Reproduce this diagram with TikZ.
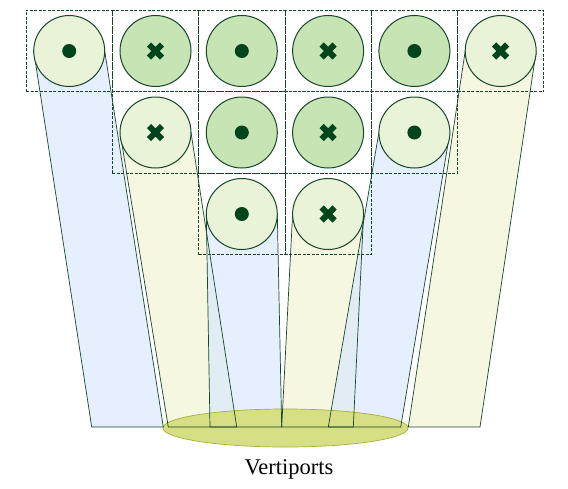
\documentclass[tikz,border=0pt]{standalone}
\usepackage{fontspec}
\setmainfont{Liberation Serif}
\usetikzlibrary{shapes.geometric}
\definecolor{edgegreen}{HTML}{17452A}
\definecolor{markgreen}{HTML}{00441B}
\definecolor{lightcell}{HTML}{E8F3D7}
\definecolor{midcell}{HTML}{C7E4B5}
\definecolor{beamblue}{HTML}{DAE8FC}
\definecolor{beamyellow}{HTML}{EEF2CC}
\definecolor{portfill}{HTML}{D6DF84}
\definecolor{portedge}{HTML}{A6B03A}
\tikzset{
  cellbox/.style={draw=edgegreen, dashed, dash pattern=on 3pt off 1.5pt, line width=0.8pt,
    minimum width=86.3pt, minimum height=81.7pt, inner sep=0pt},
  beamcell/.style={circle, draw=edgegreen, line width=1pt, fill=lightcell,
    minimum size=71pt, inner sep=0pt},
  busycell/.style={beamcell, fill=midcell},
  bluebeam/.style={fill=beamblue, fill opacity=0.7},
  yellowbeam/.style={fill=beamyellow, fill opacity=0.6},
  beamline/.style={draw=edgegreen, line width=0.7pt}
}
\begin{document}
\begin{tikzpicture}[x=1pt,y=-1pt]%
\useasboundingbox (0,0) rectangle (568,488);
\def\markdot#1{\fill[markgreen] (#1.center) circle (7pt);}
\def\markx#1{\draw[markgreen, line width=6pt] ([shift={(-6.5,-6.5)}]#1.center) -- ([shift={(6.5,6.5)}]#1.center)
  ([shift={(-6.5,6.5)}]#1.center) -- ([shift={(6.5,-6.5)}]#1.center);}
% beam cells (light) placed first, as coordinates
\coordinate (a) at (69.2,51);
\coordinate (b) at (155.5,132.5);
\coordinate (c) at (241.8,214);
\coordinate (d) at (328.1,214);
\coordinate (e) at (414.4,132.5);
\coordinate (f) at (500.7,51);
% beam feet on the vertiport line
\coordinate (aL) at (91.7,427);  \coordinate (aR) at (163.3,427);
\coordinate (bL) at (168.3,427); \coordinate (bR) at (236.7,427);
\coordinate (cL) at (210,427);   \coordinate (cR) at (281.7,427);
\coordinate (dL) at (281.7,427); \coordinate (dR) at (353.3,427);
\coordinate (eL) at (328.3,427); \coordinate (eR) at (400.7,427);
\coordinate (fL) at (408.3,427); \coordinate (fR) at (480,427);
% beam fills
\fill[bluebeam] ([xshift=-35.5]a) -- (aL) -- (aR) -- ([xshift=35.5]a) -- cycle;
\fill[yellowbeam] ([xshift=-35.5]b) -- (bL) -- (bR) -- ([xshift=35.5]b) -- cycle;
\fill[bluebeam] ([xshift=-35.5]c) -- (cL) -- (cR) -- ([xshift=35.5]c) -- cycle;
\fill[yellowbeam] ([xshift=-35.5]d) -- (dL) -- (dR) -- ([xshift=35.5]d) -- cycle;
\fill[bluebeam] ([xshift=-35.5]e) -- (eL) -- (eR) -- ([xshift=35.5]e) -- cycle;
\fill[yellowbeam] ([xshift=-35.5]f) -- (fL) -- (fR) -- ([xshift=35.5]f) -- cycle;
% vertiports
\node[ellipse, draw=portedge, fill=portfill, line width=0.7pt, minimum width=245pt,
  minimum height=38pt, inner sep=0pt] (port) at (285.5,428) {};
\node[font=\fontsize{22.5}{25}\selectfont] (label) at (289,469) {Vertiports};
% beam outlines
\draw[beamline] ([xshift=-35.5]a) -- (aL) -- (aR) -- ([xshift=35.5]a);
\draw[beamline] ([xshift=-35.5]b) -- (bL) -- (bR) -- ([xshift=35.5]b);
\draw[beamline] ([xshift=-35.5]c) -- (cL) -- (cR) -- ([xshift=35.5]c);
\draw[beamline] ([xshift=-35.5]d) -- (dL) -- (dR) -- ([xshift=35.5]d);
\draw[beamline] ([xshift=-35.5]e) -- (eL) -- (eR) -- ([xshift=35.5]e);
\draw[beamline] ([xshift=-35.5]f) -- (fL) -- (fR) -- ([xshift=35.5]f);
% grid of cells
\node[cellbox] (g11) at (69.2,51) {};
\node[cellbox] (g12) at (155.5,51) {};
\node[cellbox] (g13) at (241.8,51) {};
\node[cellbox] (g14) at (328.1,51) {};
\node[cellbox] (g15) at (414.4,51) {};
\node[cellbox] (g16) at (500.7,51) {};
\node[cellbox] (g22) at (155.5,132.5) {};
\node[cellbox] (g23) at (241.8,132.5) {};
\node[cellbox] (g24) at (328.1,132.5) {};
\node[cellbox] (g25) at (414.4,132.5) {};
\node[cellbox] (g33) at (241.8,214) {};
\node[cellbox] (g34) at (328.1,214) {};
% satellites over the cells
\node[beamcell] (s11) at (g11) {};
\node[busycell] (s12) at (g12) {};
\node[busycell] (s13) at (g13) {};
\node[busycell] (s14) at (g14) {};
\node[busycell] (s15) at (g15) {};
\node[beamcell] (s16) at (g16) {};
\node[beamcell] (s22) at (g22) {};
\node[busycell] (s23) at (g23) {};
\node[busycell] (s24) at (g24) {};
\node[beamcell] (s25) at (g25) {};
\node[beamcell] (s33) at (g33) {};
\node[beamcell] (s34) at (g34) {};
\markdot{s11} \markx{s12} \markdot{s13} \markx{s14} \markdot{s15} \markx{s16}
\markx{s22} \markdot{s23} \markx{s24} \markdot{s25}
\markdot{s33} \markx{s34}
\end{tikzpicture}
\end{document}
